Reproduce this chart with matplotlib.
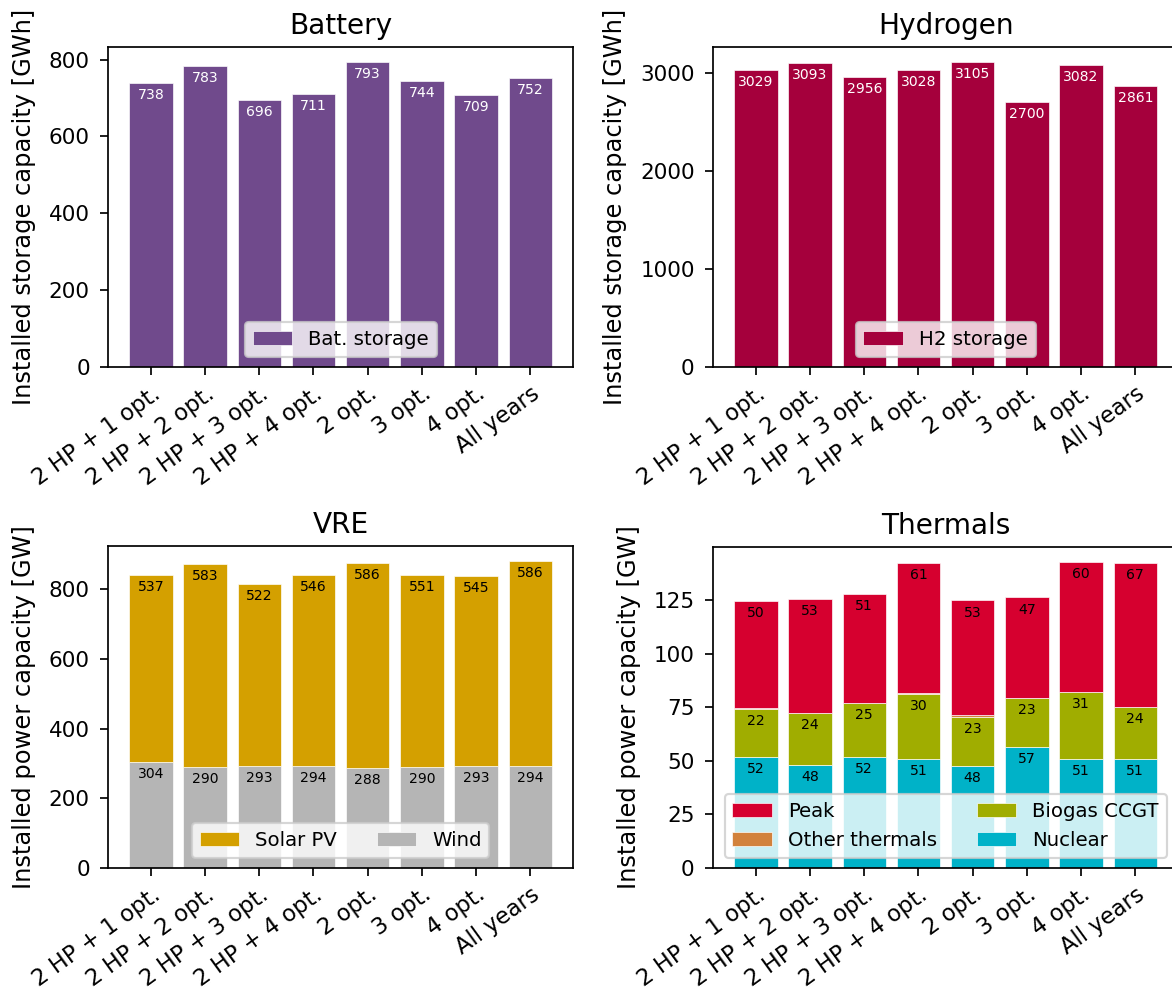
import numpy as np
import matplotlib.pyplot as plt
from matplotlib.ticker import MultipleLocator

scenarios = ['2 HP + 1 opt.', '2 HP + 2 opt.', '2 HP + 3 opt.', '2 HP + 4 opt.',
             '2 opt.', '3 opt.', '4 opt.', 'All years']

battery = [738, 783, 696, 711, 793, 744, 709, 752]
hydrogen = [3029, 3093, 2956, 3028, 3105, 2700, 3082, 2861]

wind = [304, 290, 293, 294, 288, 290, 293, 294]
solar = [537, 583, 522, 546, 586, 551, 545, 586]

nuclear = [51.8, 48.2, 51.6, 50.8, 47.6, 56.6, 50.9, 50.8]
biogas = [22.3, 24.1, 25.3, 30.4, 22.9, 22.8, 31.4, 24.1]
other_thermals = [0.6, 0.0, 0.0, 0.3, 1.0, 0.0, 0.0, 0.3]
peak = [50.0, 53.0, 50.9, 60.8, 53.3, 46.8, 60.3, 66.9]

plt.rcParams['font.size'] = 10
plt.rcParams['legend.fontsize'] = 9.2
plt.rcParams['axes.labelsize'] = 11.2
plt.rcParams['axes.titlesize'] = 13
plt.rcParams['ytick.major.pad'] = 5
fig = plt.figure(figsize=(1172 / 155, 996 / 155), dpi=155)

ax_bat = fig.add_axes([0.0922, 0.6315, 0.3968, 0.3213])
ax_h2 = fig.add_axes([0.6084, 0.6315, 0.3968, 0.3213])
ax_vre = fig.add_axes([0.0922, 0.1285, 0.3968, 0.3233])
ax_th = fig.add_axes([0.6084, 0.1285, 0.3968, 0.3223])

x = np.arange(len(scenarios))


def label_segments(ax, bars, values, color='black'):
    # value written just below the top edge of each segment
    for b, v in zip(bars, values):
        top = b.get_y() + b.get_height()
        ax.annotate(f'{v:.0f}', (b.get_x() + b.get_width() / 2, top),
                    xytext=(0, -5.6), textcoords='offset points',
                    ha='center', va='center', fontsize=6.5, color=color)


def stack(ax, series, names, colors, labelled):
    bottom = np.zeros(len(x))
    handles = []
    for vals, name, col, lab in zip(series, names, colors, labelled):
        vals = np.array(vals)
        bars = ax.bar(x, vals, 0.8, bottom=bottom, color=col, label=name,
                      edgecolor='white', linewidth=0.3)
        if lab:
            label_segments(ax, bars, vals)
        handles.append(bars)
        bottom = bottom + vals
    return handles


# Battery
bars = ax_bat.bar(x, battery, 0.8, color='#704a8c', label='Bat. storage',
                  edgecolor='white', linewidth=0.3)
label_segments(ax_bat, bars, battery, color='white')
ax_bat.set_title('Battery')
ax_bat.set_ylabel('Installed storage capacity [GWh]', labelpad=6)
ax_bat.legend(loc='lower center')

# Hydrogen
bars = ax_h2.bar(x, hydrogen, 0.8, color='#a5003c', label='H2 storage',
                 edgecolor='white', linewidth=0.3)
label_segments(ax_h2, bars, hydrogen, color='white')
ax_h2.set_title('Hydrogen')
ax_h2.set_ylabel('Installed storage capacity [GWh]', labelpad=6)
ax_h2.yaxis.set_major_locator(MultipleLocator(1000))
ax_h2.legend(loc='lower center')

# VRE
h = stack(ax_vre, [wind, solar], ['Wind', 'Solar PV'],
          ['#b5b5b5', '#d4a000'], [True, True])
ax_vre.set_title('VRE')
ax_vre.set_ylabel('Installed power capacity [GW]', labelpad=6)
ax_vre.legend(h[::-1], ['Solar PV', 'Wind'], loc='lower center', ncol=2)

# Thermals
h = stack(ax_th, [nuclear, biogas, other_thermals, peak],
          ['Nuclear', 'Biogas CCGT', 'Other thermals', 'Peak'],
          ['#00b2c8', '#a0ad00', '#d2823c', '#d6002f'],
          [True, True, False, True])
ax_th.set_title('Thermals')
ax_th.set_ylabel('Installed power capacity [GW]', labelpad=6)
ax_th.legend(h[::-1], ['Peak', 'Other thermals', 'Biogas CCGT', 'Nuclear'],
             loc='lower center', ncol=2)

for ax in (ax_bat, ax_h2, ax_vre, ax_th):
    ax.set_xticks(x)
    ax.set_xticklabels(scenarios, rotation=36, ha='right', rotation_mode='anchor',
                       fontsize=10.5)

fig.savefig('out.png', dpi=155)
